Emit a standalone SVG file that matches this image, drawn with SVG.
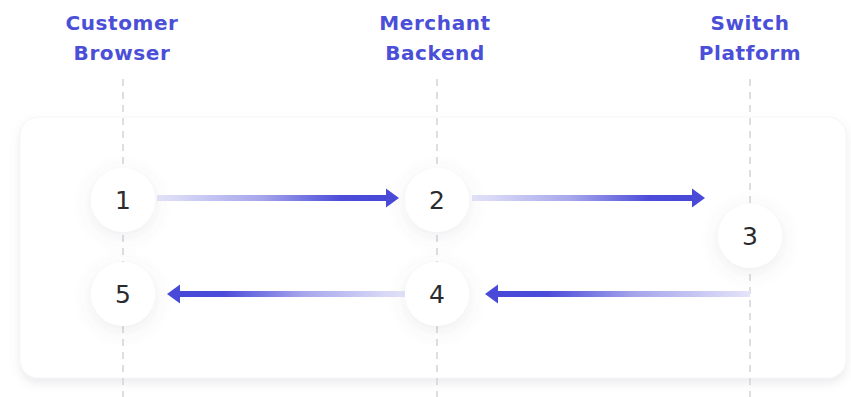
<svg xmlns="http://www.w3.org/2000/svg" width="851" height="397" viewBox="0 0 851 397">
  <defs>
    <style>
      .hdr { font-family: "DejaVu Sans", "Liberation Sans", sans-serif; font-weight: 700; font-size: 20px; fill: #4b4fd7; text-anchor: middle; letter-spacing: 0.6px; }
      .num { font-family: "DejaVu Sans", "Liberation Sans", sans-serif; font-weight: 500; font-size: 25px; fill: #2b2b2e; text-anchor: middle; }
      .life { stroke: #d6d6da; stroke-width: 1.6; stroke-dasharray: 7 6; fill: none; }
      .node { fill: #ffffff; filter: url(#nshadow); }
      .head { fill: #4a4ad8; }
    </style>
    <filter id="cshadow" x="-5%" y="-10%" width="110%" height="125%">
      <feDropShadow dx="0" dy="5" stdDeviation="5" flood-color="#8a8a9a" flood-opacity="0.16"/>
    </filter>
    <filter id="nshadow" x="-60%" y="-60%" width="220%" height="220%">
      <feDropShadow dx="0" dy="4" stdDeviation="9" flood-color="#606070" flood-opacity="0.12"/>
    </filter>
    <linearGradient id="gR" x1="0" y1="0" x2="1" y2="0">
      <stop offset="0" stop-color="#e4e4fa"/>
      <stop offset="0.45" stop-color="#a6a6ec"/>
      <stop offset="0.8" stop-color="#4c4cd9"/>
      <stop offset="1" stop-color="#4848d8"/>
    </linearGradient>
    <linearGradient id="gL" x1="1" y1="0" x2="0" y2="0">
      <stop offset="0" stop-color="#e4e4fa"/>
      <stop offset="0.45" stop-color="#a6a6ec"/>
      <stop offset="0.8" stop-color="#4c4cd9"/>
      <stop offset="1" stop-color="#4848d8"/>
    </linearGradient>
  </defs>

  <rect width="851" height="397" fill="#ffffff"/>

  <g id="headers">
    <text class="hdr" x="122" y="30">Customer</text>
    <text class="hdr" x="122" y="60">Browser</text>
    <text class="hdr" x="435" y="30">Merchant</text>
    <text class="hdr" x="435" y="60">Backend</text>
    <text class="hdr" x="750" y="30">Switch</text>
    <text class="hdr" x="750" y="60">Platform</text>
  </g>

  <g id="card">
    <rect x="20" y="117" width="826" height="261" rx="18" fill="#ffffff" stroke="#f5f5f7" stroke-width="1" filter="url(#cshadow)"/>
  </g>

  <g id="lifelines">
    <line class="life" x1="123" y1="79" x2="123" y2="397"/>
    <line class="life" x1="437" y1="79" x2="437" y2="397"/>
    <line class="life" x1="750" y1="79" x2="750" y2="397"/>
  </g>

  <g id="connectors">
    <g id="c1-2">
      <rect x="157" y="195" width="230" height="6" fill="url(#gR)"/>
      <polygon class="head" points="386,188.5 399,198 386,207.5"/>
    </g>
    <g id="c2-3">
      <rect x="472" y="195" width="221" height="6" fill="url(#gR)"/>
      <polygon class="head" points="692,188.5 705,198 692,207.5"/>
    </g>
    <g id="c3-4">
      <rect x="497" y="291" width="253" height="6" fill="url(#gL)"/>
      <polygon class="head" points="498,284.5 485,294 498,303.5"/>
    </g>
    <g id="c4-5">
      <rect x="179" y="291" width="226" height="6" fill="url(#gL)"/>
      <polygon class="head" points="180,284.5 167,294 180,303.5"/>
    </g>
  </g>

  <g id="n1"><circle class="node" cx="123" cy="200" r="32"/><text class="num" x="123" y="209">1</text></g>
  <g id="n2"><circle class="node" cx="437" cy="200" r="32"/><text class="num" x="437" y="209">2</text></g>
  <g id="n3"><circle class="node" cx="750" cy="236" r="32"/><text class="num" x="750" y="245">3</text></g>
  <g id="n4"><circle class="node" cx="437" cy="294" r="32"/><text class="num" x="437" y="303">4</text></g>
  <g id="n5"><circle class="node" cx="123" cy="294" r="32"/><text class="num" x="123" y="303">5</text></g>
</svg>
